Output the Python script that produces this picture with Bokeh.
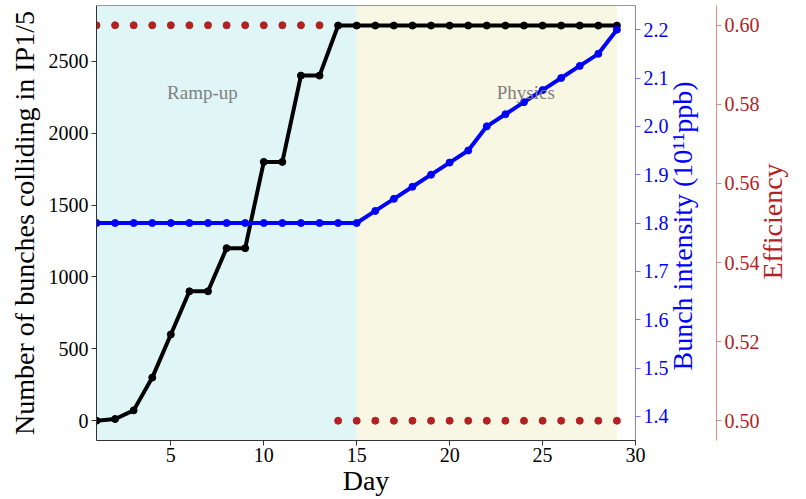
import math
from bokeh.plotting import figure
from bokeh.models import (Range1d, LinearAxis, FixedTicker, PrintfTickFormatter,
                          BoxAnnotation, Span, Label)
from bokeh.embed import file_html
from bokeh.resources import INLINE

# ---------------- data ----------------
days = [1, 2, 3, 4, 5, 6, 7, 8, 9, 10, 11, 12, 13, 14, 15,
        16, 17, 18, 19, 20, 21, 22, 23, 24, 25, 26, 27, 28, 29]
bunches = [0, 12, 72, 300, 600, 900, 900, 1200, 1200, 1800, 1800, 2400, 2400, 2748, 2748,
           2748, 2748, 2748, 2748, 2748, 2748, 2748, 2748, 2748, 2748, 2748, 2748, 2748, 2748]
intensity = [1.8, 1.8, 1.8, 1.8, 1.8, 1.8, 1.8, 1.8, 1.8, 1.8, 1.8, 1.8, 1.8, 1.8, 1.8,
             1.825, 1.85, 1.875, 1.9, 1.925, 1.95, 2.0, 2.025, 2.05, 2.075, 2.1, 2.125, 2.15, 2.2]
efficiency = [0.60, 0.60, 0.60, 0.60, 0.60, 0.60, 0.60, 0.60, 0.60, 0.60, 0.60, 0.60, 0.60,
              0.50, 0.50, 0.50, 0.50, 0.50, 0.50, 0.50, 0.50, 0.50, 0.50, 0.50, 0.50, 0.50,
              0.50, 0.50, 0.50]
phase_names = ["Ramp-up", "Physics"]
phase_start = [1, 15]
phase_end = [15, 29]
x_ticks = [5, 10, 15, 20, 25, 30]
bunch_ticks = [0, 500, 1000, 1500, 2000, 2500]
intensity_ticks = [1.4, 1.5, 1.6, 1.7, 1.8, 1.9, 2.0, 2.1, 2.2]
efficiency_ticks = [0.50, 0.52, 0.54, 0.56, 0.58, 0.60]

FONT = "Liberation Serif"
RED = "#b22222"
BLUE = "#0000ff"
NBSP = "\u00a0"

p = figure(width=806, height=499, output_backend="svg", toolbar_location=None,
           x_range=Range1d(1, 30), y_range=Range1d(-137.5, 2887.5),
           min_border_left=96, min_border_top=5, min_border_bottom=59, min_border_right=156)
p.xgrid.visible = False
p.ygrid.visible = False
p.outline_line_color = None
p.background_fill_color = "white"
p.border_fill_color = "white"

p.extra_y_ranges = {"blue": Range1d(1.35, 2.25), "red": Range1d(0.495, 0.605)}

# phase shading
phase_colors = ["#e0f6f6", "#f7f7e3"]
for s, e, c in zip(phase_start, phase_end, phase_colors):
    p.add_layout(BoxAnnotation(left=s, right=e, fill_color=c, fill_alpha=1.0,
                               line_color=None, level="underlay"))
label_x = [6.7, 24.1]
for name, lx in zip(phase_names, label_x):
    p.add_layout(Label(x=lx, y=2282, text=name, text_align="center", text_baseline="middle",
                       text_color="#808080", text_font=FONT, text_font_size="19px"))

# top spine
p.add_layout(Span(location=2887.5, dimension="width", line_color="#333333", line_width=1))

def style_axis(ax, color, label_color=None):
    ax.major_label_text_font = FONT
    ax.major_label_text_font_size = "20px"
    ax.major_label_text_color = label_color or color
    ax.axis_label_text_font = FONT
    ax.axis_label_text_font_size = "28px"
    ax.axis_label_text_font_style = "normal"
    ax.axis_label_text_color = label_color or color
    ax.minor_tick_line_color = None
    ax.major_tick_in = 0
    ax.major_tick_out = 5
    ax.major_label_standoff = 3

# x axis
xa = p.xaxis[0]
style_axis(xa, "#333333", "black")
xa.ticker = FixedTicker(ticks=x_ticks)
xa.axis_label = "Day"
xa.axis_label_standoff = 0
xa.major_label_standoff = 2
xa.axis_line_color = "#333333"
xa.major_tick_line_color = "#333333"

# left axis
ya = p.yaxis[0]
style_axis(ya, "#333333", "black")
ya.ticker = FixedTicker(ticks=bunch_ticks)
ya.axis_label = "Number of bunches colliding in IP1/5"
ya.axis_label_standoff = 6
ya.axis_line_color = "#333333"
ya.major_tick_line_color = "#333333"

# blue axis: title reads bottom-to-top, starting from the bottom of the frame
ba = LinearAxis(y_range_name="blue", ticker=FixedTicker(ticks=intensity_ticks),
                formatter=PrintfTickFormatter(format="%.1f"),
                axis_label=NBSP * 10 + "Bunch intensity (10\u00b9\u00b9ppb)")
style_axis(ba, BLUE)
ba.axis_line_color = BLUE
ba.axis_line_alpha = 0.5
ba.major_tick_line_color = BLUE
ba.major_tick_line_alpha = 0.5
ba.axis_label_standoff = 11
ba.axis_label_orientation = math.pi / 2
ba.axis_label_align = "start"
p.add_layout(ba, "right")

# red axis
ra = LinearAxis(y_range_name="red", ticker=FixedTicker(ticks=efficiency_ticks),
                formatter=PrintfTickFormatter(format="%.2f"),
                axis_label=NBSP * 23 + "Efficiency")
style_axis(ra, RED)
ra.axis_line_color = RED
ra.axis_line_alpha = 0.5
ra.major_tick_line_color = RED
ra.major_tick_line_alpha = 0.5
ra.major_label_standoff = 3
ra.axis_label_standoff = 10
ra.axis_label_orientation = math.pi / 2
ra.axis_label_align = "start"
p.add_layout(ra, "right")

# data
p.line(days, bunches, line_color="black", line_width=4)
p.scatter(days, bunches, size=7, fill_color="black", line_color="black")
p.line(days, intensity, line_color=BLUE, line_width=4, y_range_name="blue")
p.scatter(days, intensity, size=7, fill_color=BLUE, line_color=BLUE, y_range_name="blue")
p.scatter(days, efficiency, size=7, fill_color=RED, line_color=RED, y_range_name="red")

open("out.html", "w").write(file_html(p, INLINE))
